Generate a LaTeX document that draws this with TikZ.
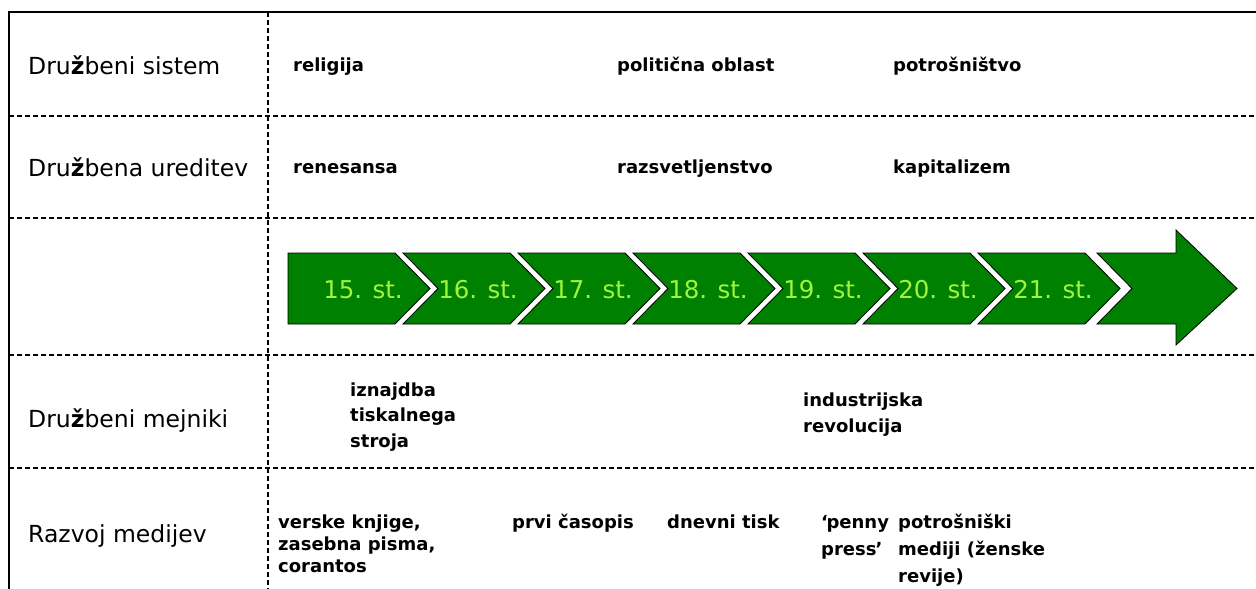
\documentclass[tikz,border=0pt]{standalone}
\usepackage{fontspec}
\setmainfont{DejaVu Sans}
\definecolor{arrowgreen}{RGB}{0,128,0}
\definecolor{limetext}{RGB}{160,245,60}
\begin{document}
\begin{tikzpicture}[x=1pt,y=-1pt,
  rowlabel/.style={anchor=base west, inner sep=0pt, font=\fontsize{23.5}{28}\selectfont},
  cell/.style={anchor=base west, inner sep=0pt, align=left, font=\fontsize{18}{26}\selectfont\bfseries},
  cent/.style={anchor=base, inner sep=0pt, text=limetext, font=\fontsize{24.5}{28}\selectfont},
  chev/.style={fill=arrowgreen, draw=black, line width=0.8pt, line join=miter},
  gridh/.style={black, line width=1.3pt, dash pattern=on 5pt off 3pt},
  gridv/.style={black, line width=2pt, dash pattern=on 5pt off 3pt},
  frame/.style={black, line width=1.5pt}]
\useasboundingbox (0,0) rectangle (1256,589);
\fill[white] (0,0) rectangle (1256,589);
% frame and grid
\coordinate (tl) at (9,12);
\coordinate (tr) at (1256,12);
\coordinate (bl) at (9,589);
\coordinate (vt) at (268,12);
\coordinate (vb) at (268,589);
\foreach \y/\n in {116/a,218/b,355/c,468/d}{
  \coordinate (h\n l) at (9,\y);
  \coordinate (h\n r) at (1256,\y);
  \draw[gridh] (h\n l) -- (h\n r);
}
\draw[gridv] (vt) -- (vb);
\draw[frame] (bl) -- (tl) -- (tr);
% row labels
\node[rowlabel] (lab1) at (28,74) {Dru{\bfseries ž}beni sistem};
\node[rowlabel] (lab2) at (28,176) {Dru{\bfseries ž}bena ureditev};
\node[rowlabel] (lab4) at (28,427) {Dru{\bfseries ž}beni mejniki};
\node[rowlabel] (lab5) at (28,542) {Razvoj medijev};
% row 1 and 2
\node[cell] (rel) at (293,71) {religija};
\node[cell] (pol) at (617,71) {politična oblast};
\node[cell] (potr) at (893,71) {potrošništvo};
\node[cell] (ren) at (293,173) {renesansa};
\node[cell] (raz) at (617,173) {razsvetljenstvo};
\node[cell] (kap) at (893,173) {kapitalizem};
% chevrons
\path[chev] (288,253) -- (395,253) -- (430,288.5) -- (395,324) -- (288,324) -- cycle;
\node[cent] (t15) at (363,298) {15. st.};
\foreach \L/\lab in {403/16,518/17,633/18,748/19,863/20,978/21}{
  \path[chev] (\L,253) -- (\L+107,253) -- (\L+142,288.5) -- (\L+107,324) -- (\L,324) -- (\L+35,288.5) -- cycle;
  \node[cent] (t\lab) at (\L+75,298) {\lab. st.};
}
\path[chev] (1097,253) -- (1176,253) -- (1176,230) -- (1237,288.5) -- (1176,345) -- (1176,324) -- (1097,324) -- (1132,288.5) -- cycle;
% row 4 (base anchor = baseline of last line)
\node[cell, font=\fontsize{18}{25.5}\selectfont\bfseries] (izn) at (350,447) {iznajdba\\tiskalnega\\stroja};
\node[cell] (ind) at (803,432) {industrijska\\revolucija};
% row 5
\node[cell, font=\fontsize{18}{22}\selectfont\bfseries] (ver) at (278,572) {verske knjige,\\zasebna pisma,\\corantos};
\node[cell] (prvi) at (512,528) {prvi časopis};
\node[cell] (dnev) at (667,528) {dnevni tisk};
\node[cell, font=\fontsize{18}{27}\selectfont\bfseries] (penny) at (821,555) {‘\kern-1.5pt penny\\press\kern-1pt’};
\node[cell, font=\fontsize{18}{27}\selectfont\bfseries] (potm) at (898,582) {potrošniški\\mediji (ženske\\revije)};
\end{tikzpicture}
\end{document}
